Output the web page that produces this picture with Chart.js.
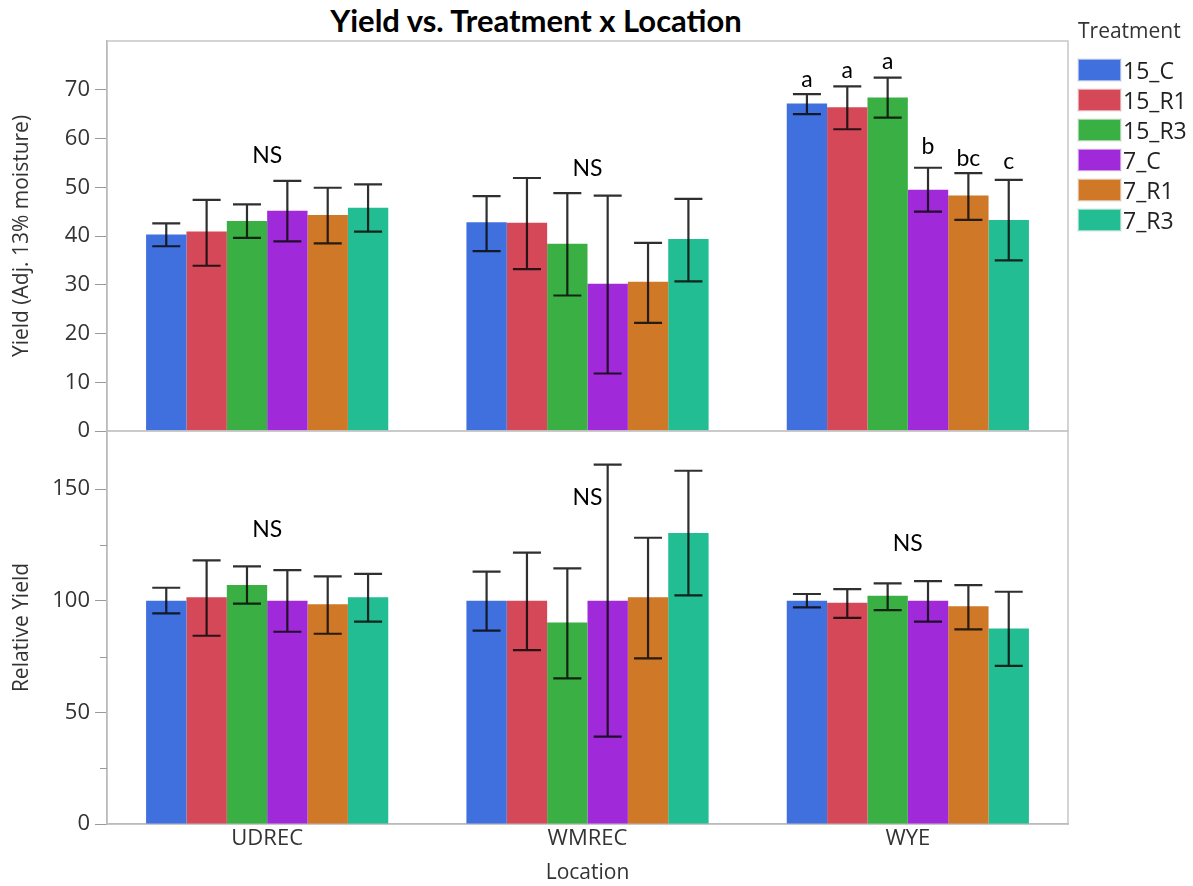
<!DOCTYPE html>
<html>
<head>
<meta charset="utf-8">
<script src="https://cdn.jsdelivr.net/npm/chart.js@4.4.0/dist/chart.umd.min.js"></script>
<style>
    body { margin: 0; background: #fff; width: 1193px; height: 886px; position: relative; overflow: hidden; }
    #titulo { position: absolute; left: 0; width: 1072px; top: 1px; text-align: center; font: bold 31px Lato, sans-serif; color: #000; }
    canvas { position: absolute; left: 0; }
    #leyenda { position: absolute; left: 1078px; top: 15px; font-family: 'Open Sans', sans-serif; color: #222; }
    #leyenda .tit { font-size: 21px; line-height: 30px; margin-bottom: 10px; color: #333; }
    #leyenda .fila { display: flex; align-items: center; height: 30px; font-size: 23px; }
    #leyenda .caja { width: 41px; height: 20px; margin-right: 2px; border: 1px solid rgba(255,255,255,0.5); box-shadow: 0 0 0 1px rgba(0,0,0,0.06); }
</style>
</head>
<body>
<div id="titulo">Yield vs. Treatment x Location</div>
<canvas id="chartRend" width="1193" height="460" style="top:0"></canvas>
<canvas id="chartRel" width="1193" height="486" style="top:400px"></canvas>
<div id="leyenda"></div>
<script>
const ubicaciones = ['UDREC', 'WMREC', 'WYE'];
const tratamientos = ['15_C', '15_R1', '15_R3', '7_C', '7_R1', '7_R3'];
const colores = ['#4070DE', '#D54858', '#3AB044', '#A02ADA', '#CE7828', '#22BD92'];

// Rendimiento (Adj. 13% humedad): una fila por tratamiento, una columna por ubicación
const rendMedia = [
    [40.3, 42.8, 67.2],
    [40.9, 42.7, 66.4],
    [43.1, 38.4, 68.4],
    [45.2, 30.2, 49.5],
    [44.3, 30.6, 48.3],
    [45.8, 39.4, 43.3]
];
const rendAlto = [
    [42.6, 48.2, 69.1],
    [47.4, 51.9, 70.7],
    [46.5, 48.8, 72.5],
    [51.3, 48.3, 54.0],
    [49.9, 38.6, 52.9],
    [50.6, 47.6, 51.5]
];
const rendBajo = [
    [37.9, 36.9, 65.0],
    [33.9, 33.2, 61.9],
    [39.6, 27.8, 64.3],
    [38.9, 11.8, 45.0],
    [38.5, 22.2, 43.3],
    [40.9, 30.7, 35.0]
];

// Rendimiento relativo
const relMedia = [
    [100.0, 100.0, 100.0],
    [101.5, 100.0, 99.1],
    [107.0, 90.2, 102.2],
    [100.0, 100.0, 100.0],
    [98.4, 101.5, 97.5],
    [101.5, 130.3, 87.5]
];
const relAlto = [
    [105.8, 113.0, 103.0],
    [118.1, 121.5, 105.2],
    [115.4, 114.5, 107.8],
    [113.7, 160.9, 108.8],
    [110.9, 128.2, 107.0],
    [112.0, 158.2, 104.0]
];
const relBajo = [
    [94.3, 86.6, 97.0],
    [84.3, 77.9, 92.3],
    [98.7, 65.2, 95.8],
    [86.1, 39.1, 90.6],
    [85.2, 74.2, 87.2],
    [90.6, 102.4, 70.8]
];

// Anotaciones: "NS" por ubicación (altura en unidades del eje) y letras de WYE
const rendNS = [56.5, 53.8, null];
const relNS = [131.7, 146.4, 125.8];
const letrasWYE = ['a', 'a', 'a', 'b', 'bc', 'c'];
const letrasWYEy = [70.5, 72.5, 74.2, 56.9, 54.4, 53.8];

// Leyenda
const leyenda = document.getElementById('leyenda');
leyenda.innerHTML = '<div class="tit">Treatment</div>' + tratamientos.map((t, i) =>
    `<div class="fila"><span class="caja" style="background:${colores[i]}"></span>${t}</div>`).join('');

const fuenteTicks = { family: "'Open Sans', sans-serif", size: 22 };
const fuenteTitulos = { family: "'Open Sans', sans-serif", size: 21 };
const grisEje = '#9a9a9a';

const marco = {
    id: 'marco',
    beforeDatasetsDraw(chart) {
        const { ctx, chartArea: a } = chart;
        ctx.save();
        ctx.strokeStyle = '#c6c6c6';
        ctx.lineWidth = 1.5;
        ctx.strokeRect(a.left, a.top, a.right - a.left, a.bottom - a.top);
        ctx.restore();
    }
};

const barrasError = {
    id: 'barrasError',
    afterDatasetsDraw(chart) {
        const { ctx } = chart;
        const y = chart.scales.y;
        ctx.save();
        ctx.strokeStyle = 'rgba(10,10,10,0.85)';
        ctx.lineWidth = 2.2;
        chart.data.datasets.forEach((ds, i) => {
            chart.getDatasetMeta(i).data.forEach((bar, j) => {
                const alto = y.getPixelForValue(ds.alto[j]);
                const bajo = y.getPixelForValue(ds.bajo[j]);
                ctx.beginPath();
                ctx.moveTo(bar.x, alto); ctx.lineTo(bar.x, bajo);
                ctx.moveTo(bar.x - 14, alto); ctx.lineTo(bar.x + 14, alto);
                ctx.moveTo(bar.x - 14, bajo); ctx.lineTo(bar.x + 14, bajo);
                ctx.stroke();
            });
        });
        ctx.restore();
    }
};

const textos = {
    id: 'textos',
    afterDraw(chart, args, opts) {
        const { ctx } = chart;
        const x = chart.scales.x, y = chart.scales.y;
        ctx.save();
        ctx.fillStyle = '#000';
        ctx.font = "23px Lato, sans-serif";
        ctx.textAlign = 'center';
        (opts.ns || []).forEach((v, j) => {
            if (v === null) return;
            ctx.textBaseline = 'middle';
            ctx.fillText('NS', x.getPixelForValue(j), y.getPixelForValue(v));
        });
        if (opts.letras) {
            const j = ubicaciones.indexOf('WYE');
            opts.letras.forEach((l, i) => {
                const bar = chart.getDatasetMeta(i).data[j];
                ctx.textBaseline = 'alphabetic';
                ctx.fillText(l, bar.x, y.getPixelForValue(opts.letrasY[i]));
            });
        }
        ctx.restore();
    }
};

const ticksMenores = {
    id: 'ticksMenores',
    afterDraw(chart, args, opts) {
        if (!opts.valores) return;
        const { ctx } = chart;
        const y = chart.scales.y;
        ctx.save();
        ctx.strokeStyle = grisEje;
        ctx.lineWidth = 1;
        opts.valores.forEach(v => {
            const py = Math.round(y.getPixelForValue(v)) + 0.5;
            ctx.beginPath();
            ctx.moveTo(y.right - 7, py); ctx.lineTo(y.right, py);
            ctx.stroke();
        });
        ctx.restore();
    }
};

function armarDatasets(medias, altos, bajos) {
    return tratamientos.map((t, i) => ({
        label: t,
        data: medias[i],
        alto: altos[i],
        bajo: bajos[i],
        backgroundColor: colores[i],
        borderWidth: 0,
        categoryPercentage: 0.756,
        barPercentage: 1
    }));
}

new Chart(document.getElementById('chartRend'), {
    type: 'bar',
    data: { labels: ubicaciones, datasets: armarDatasets(rendMedia, rendAlto, rendBajo) },
    options: {
        responsive: false,
        animation: false,
        layout: { padding: { top: 41, right: 125, bottom: 0, left: 0 } },
        plugins: {
            legend: { display: false },
            tooltip: { enabled: false },
            textos: { ns: rendNS, letras: letrasWYE, letrasY: letrasWYEy }
        },
        scales: {
            x: {
                afterFit: s => { s.height = 29; },
                ticks: { display: false },
                grid: { display: false, drawTicks: false },
                border: { display: false }
            },
            y: {
                min: 0, max: 80,
                afterFit: s => { s.width = 107; },
                afterBuildTicks: s => { s.ticks = s.ticks.filter(t => t.value <= 70); },
                ticks: { stepSize: 10, color: '#333', font: fuenteTicks, padding: 5 },
                grid: { drawOnChartArea: false, tickLength: 12, tickColor: grisEje },
                border: { color: grisEje, width: 1.5 },
                title: { display: true, text: 'Yield (Adj. 13% moisture)', color: '#333', font: fuenteTitulos, padding: { top: 9, bottom: 0 } }
            }
        }
    },
    plugins: [marco, barrasError, textos]
});

new Chart(document.getElementById('chartRel'), {
    type: 'bar',
    data: { labels: ubicaciones, datasets: armarDatasets(relMedia, relAlto, relBajo) },
    options: {
        responsive: false,
        animation: false,
        layout: { padding: { top: 31, right: 125, bottom: 0, left: 0 } },
        plugins: {
            legend: { display: false },
            tooltip: { enabled: false },
            textos: { ns: relNS },
            ticksMenores: { valores: [25, 75, 125] }
        },
        scales: {
            x: {
                afterFit: s => { s.height = 62; },
                ticks: { color: '#333', font: fuenteTicks, padding: 2 },
                grid: { display: false, drawTicks: false },
                border: { color: grisEje, width: 1.5 },
                title: { display: true, text: 'Location', color: '#333', font: fuenteTitulos, padding: { top: 0, bottom: 0 } }
            },
            y: {
                min: 0, max: 176,
                afterFit: s => { s.width = 107; },
                afterBuildTicks: s => { s.ticks = s.ticks.filter(t => t.value <= 150); },
                ticks: { stepSize: 25, color: '#333', font: fuenteTicks, padding: 5,
                    callback: v => (v % 50 === 0 ? v : '') },
                grid: { drawOnChartArea: false, tickLength: 12,
                    tickColor: c => (c.tick && c.tick.value % 50 === 0 ? grisEje : 'rgba(0,0,0,0)') },
                border: { color: grisEje, width: 1.5 },
                title: { display: true, text: 'Relative Yield', color: '#333', font: fuenteTitulos, padding: { top: 9, bottom: 0 } }
            }
        }
    },
    plugins: [marco, barrasError, textos, ticksMenores]
});
</script>
</body>
</html>
